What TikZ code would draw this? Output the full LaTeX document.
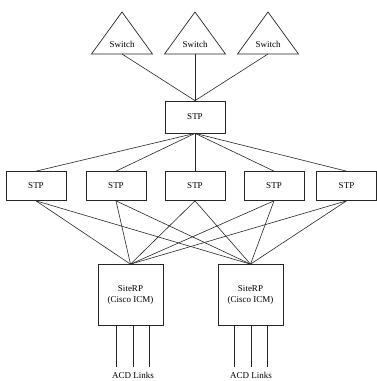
\documentclass[tikz,border=0pt]{standalone}
\usepackage{fontspec}
\setmainfont{Liberation Serif}
\begin{document}
\begin{tikzpicture}[x=1pt,y=-1pt,
  wire/.style={draw=black!85,line width=0.6pt},
  box/.style={draw=black!85,line width=0.7pt,fill=white},
  lbl/.style={font=\fontsize{9}{10}\selectfont,inner sep=0pt},
  stpbox/.style={box,minimum width=60pt,minimum height=29pt,inner sep=0pt,
    font=\fontsize{9}{10}\selectfont},
  rpbox/.style={box,minimum width=65pt,minimum height=61pt,inner sep=0pt,
    font=\fontsize{9}{11}\selectfont,align=center}]
\useasboundingbox (0,0) rectangle (376,381);

% switches
\foreach \n/\x in {sa/122,sb/195,sc/268}{
  \draw[box,line join=miter] (\x,12) -- (\x+30.5,54) -- (\x-30.5,54) -- cycle;
  \coordinate (\n) at (\x,54);
  \node[lbl] (\n t) at (\x,44) {Switch};
}

% top STP
\node[stpbox,minimum height=32pt] (top) at (195,117) {STP};

% second row of STPs
\node[stpbox] (m1) at (36,186) {STP};
\node[stpbox] (m2) at (116,186) {STP};
\node[stpbox] (m3) at (195,186) {STP};
\node[stpbox] (m4) at (274,186) {STP};
\node[stpbox] (m5) at (346.5,186) {STP};

% SiteRP servers
\node[rpbox] (r1) at (130.5,295) {SiteRP\\(Cisco ICM)};
\node[rpbox] (r2) at (250.5,295) {SiteRP\\(Cisco ICM)};

% switch links
\foreach \n in {sa,sb,sc} \draw[wire] (\n) -- (top.north);

% top STP to second row
\foreach \m in {m1,m2,m3,m4,m5} \draw[wire] (top.south) -- (\m.north);

% second row to both servers
\foreach \m in {m1,m2,m3,m4,m5}{
  \draw[wire] (\m.south) -- (r1.north);
  \draw[wire] (\m.south) -- (r2.north);
}

% ACD links
\foreach \r/\c in {r1/133,r2/251}{
  \foreach \d in {-17,0,16}{
    \coordinate (\r e\d) at (\c+\d,367);
    \draw[wire] (\r.south -| \r e\d) -- (\r e\d);
  }
}
\node[lbl] (acd1) at (133,375.5) {ACD Links};
\node[lbl] (acd2) at (251,375.5) {ACD Links};
\end{tikzpicture}
\end{document}
